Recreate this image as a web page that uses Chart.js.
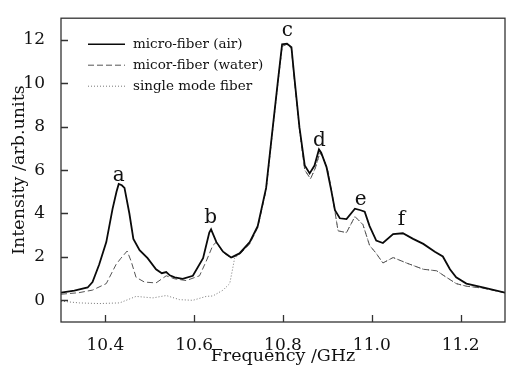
<!DOCTYPE html>
<html>
<head>
<meta charset="utf-8">
<script src="https://cdn.jsdelivr.net/npm/chart.js@4.4.1/dist/chart.umd.min.js"></script>
<style>
  html, body { margin: 0; padding: 0; background: #fff; }
  #chart { display: block; }
</style>
</head>
<body>
<canvas id="chart" width="513" height="370"></canvas>
<script>
// frequency (GHz), intensity (arb. units)
const airPoints = [
    [10.30, 0.35], [10.33, 0.45], [10.36, 0.59], [10.371, 0.84], [10.386, 1.65], [10.402, 2.68],
    [10.416, 4.2], [10.425, 5.0], [10.430, 5.36], [10.437, 5.3], [10.443, 5.18], [10.454, 4.0],
    [10.463, 2.83], [10.477, 2.31], [10.495, 1.94], [10.514, 1.43], [10.527, 1.25], [10.537, 1.3],
    [10.545, 1.15], [10.556, 1.06], [10.574, 0.99], [10.597, 1.13], [10.62, 1.94], [10.634, 3.12],
    [10.638, 3.27], [10.65, 2.68], [10.665, 2.24], [10.683, 1.97], [10.702, 2.16], [10.725, 2.68],
    [10.743, 3.42], [10.762, 5.18], [10.777, 7.98], [10.789, 10.19], [10.798, 11.8], [10.809, 11.83],
    [10.819, 11.66], [10.826, 10.19], [10.837, 7.98], [10.849, 6.21], [10.86, 5.85], [10.871, 6.21],
    [10.881, 6.95], [10.886, 6.8], [10.898, 6.14], [10.909, 5.03], [10.917, 4.15], [10.928, 3.78],
    [10.943, 3.74], [10.962, 4.22], [10.975, 4.15], [10.984, 4.08], [10.995, 3.42], [11.01, 2.75],
    [11.025, 2.64], [11.048, 3.05], [11.07, 3.09], [11.093, 2.83], [11.116, 2.6], [11.142, 2.24],
    [11.16, 2.02], [11.176, 1.43], [11.19, 1.06], [11.213, 0.77], [11.25, 0.59], [11.3, 0.35]
];
const waterPoints = [
    [10.30, 0.28], [10.34, 0.35], [10.371, 0.47], [10.402, 0.77], [10.424, 1.65], [10.435, 1.94],
    [10.449, 2.27], [10.458, 1.8], [10.469, 1.06], [10.488, 0.84], [10.514, 0.8], [10.537, 1.13],
    [10.556, 0.99], [10.582, 0.91], [10.612, 1.13], [10.627, 1.8], [10.642, 2.53], [10.65, 2.68],
    [10.665, 2.2], [10.683, 1.95], [10.702, 2.1], [10.725, 2.6], [10.743, 3.35], [10.762, 5.1],
    [10.777, 7.9], [10.789, 10.1], [10.798, 11.7], [10.809, 11.8], [10.819, 11.6], [10.826, 10.1],
    [10.837, 7.9], [10.849, 6.0], [10.862, 5.6], [10.873, 6.1], [10.883, 6.8], [10.89, 6.6],
    [10.902, 5.9], [10.913, 4.6], [10.924, 3.2], [10.943, 3.12], [10.962, 3.86], [10.98, 3.49],
    [10.995, 2.53], [11.01, 2.16], [11.025, 1.72], [11.048, 1.97], [11.078, 1.72], [11.116, 1.43],
    [11.146, 1.36], [11.168, 1.06], [11.19, 0.77], [11.213, 0.65], [11.25, 0.56], [11.3, 0.35]
];
const singlePoints = [
    [10.30, -0.04], [10.341, -0.12], [10.386, -0.15], [10.432, -0.12], [10.469, 0.18], [10.507, 0.11],
    [10.537, 0.22], [10.567, 0.03], [10.597, 0.0], [10.627, 0.18], [10.642, 0.2], [10.665, 0.47],
    [10.68, 0.77], [10.687, 1.5], [10.691, 1.94], [10.702, 2.12], [10.725, 2.62], [10.743, 3.35],
    [10.762, 5.1], [10.777, 7.9], [10.789, 10.1], [10.798, 11.7], [10.809, 11.8], [10.819, 11.6],
    [10.826, 10.1], [10.837, 7.9], [10.849, 6.0], [10.862, 5.6], [10.873, 6.1], [10.883, 6.8],
    [10.89, 6.6], [10.902, 5.9], [10.913, 4.6], [10.924, 3.2], [10.943, 3.12], [10.962, 3.86],
    [10.98, 3.49], [10.995, 2.53], [11.01, 2.16], [11.025, 1.72], [11.048, 1.97], [11.078, 1.72],
    [11.116, 1.43], [11.146, 1.36], [11.168, 1.06], [11.19, 0.77], [11.213, 0.65], [11.25, 0.56], [11.3, 0.35]
];
const seriesNames = ['micro-fiber (air)', 'micor-fiber (water)', 'single mode fiber'];
const xTicks = [10.4, 10.6, 10.8, 11.0, 11.2];
const yTicks = [0, 2, 4, 6, 8, 10, 12];
// peak letters: [label, freq, intensity]
const peakLabels = [['a', 10.43, 5.75], ['b', 10.637, 3.8], ['c', 10.81, 12.4], ['d', 10.882, 7.35], ['e', 10.975, 4.65], ['f', 11.067, 3.7]];

const serif = '"DejaVu Serif", serif';
const toXY = pts => pts.map(p => ({x: p[0], y: p[1]}));

const styles = [
    {color: '#0a0a0a', width: 1.8, dash: []},
    {color: '#555', width: 1, dash: [6, 3]},
    {color: '#777', width: 1, dash: [1, 2]}
];

const decorPlugin = {
    id: 'decor',
    afterDraw(chart) {
        const ctx = chart.ctx;
        const a = chart.chartArea;
        const xs = chart.scales.x, ys = chart.scales.y;
        ctx.save();
        // frame
        ctx.strokeStyle = '#333';
        ctx.lineWidth = 1.3;
        ctx.strokeRect(a.left, a.top, a.right - a.left, a.bottom - a.top);
        // inward ticks
        ctx.beginPath();
        for (let v of xTicks) {
            const px = Math.round(xs.getPixelForValue(v)) + 0.5;
            ctx.moveTo(px, a.bottom);
            ctx.lineTo(px, a.bottom - 7);
        }
        for (let v of yTicks) {
            const py = Math.round(ys.getPixelForValue(v)) + 0.5;
            ctx.moveTo(a.left, py);
            ctx.lineTo(a.left + 7, py);
        }
        ctx.stroke();
        // legend
        ctx.font = '13.5px ' + serif;
        ctx.fillStyle = '#111';
        ctx.textBaseline = 'middle';
        seriesNames.forEach((name, i) => {
            const y = a.top + 26 + i * 21;
            const s = styles[i];
            ctx.beginPath();
            ctx.strokeStyle = s.color;
            ctx.lineWidth = i === 0 ? 1.5 : 1;
            ctx.setLineDash(s.dash);
            ctx.moveTo(a.left + 27, y);
            ctx.lineTo(a.left + 64, y);
            ctx.stroke();
            ctx.setLineDash([]);
            ctx.fillText(name, a.left + 72, y);
        });
        // peak letters
        ctx.font = '20px ' + serif;
        ctx.fillStyle = '#111';
        ctx.textAlign = 'center';
        for (let p of peakLabels) {
            ctx.fillText(p[0], xs.getPixelForValue(p[1]), ys.getPixelForValue(p[2]));
        }
        ctx.restore();
    }
};

new Chart(document.getElementById('chart'), {
    type: 'line',
    data: {
        datasets: [airPoints, waterPoints, singlePoints].map((pts, i) => ({
            label: seriesNames[i],
            data: toXY(pts),
            borderColor: styles[i].color,
            borderWidth: styles[i].width,
            borderDash: styles[i].dash,
            pointRadius: 0,
            tension: 0,
            fill: false
        }))
    },
    options: {
        responsive: false,
        animation: false,
        devicePixelRatio: 1,
        layout: {padding: {left: 0, right: 8, top: 7, bottom: 0}},
        plugins: {legend: {display: false}, tooltip: {enabled: false}},
        scales: {
            x: {
                type: 'linear',
                min: 10.3,
                max: 11.3,
                afterBuildTicks: s => { s.ticks = xTicks.map(v => ({value: v})); },
                afterFit: s => { s.height = 48; },
                grid: {display: false},
                border: {display: false},
                ticks: {
                    font: {family: serif, size: 17},
                    color: '#111',
                    padding: 5,
                    maxRotation: 0,
                    callback: v => v.toFixed(1)
                },
                title: {display: true, text: 'Frequency /GHz', font: {family: serif, size: 17.5}, color: '#111', padding: {top: 0, bottom: 3}}
            },
            y: {
                min: -1,
                max: 13,
                afterBuildTicks: s => { s.ticks = yTicks.map(v => ({value: v})); },
                afterFit: s => { s.width = 61; },
                grid: {display: false},
                border: {display: false},
                ticks: {
                    font: {family: serif, size: 17},
                    color: '#111',
                    padding: 8,
                    callback: v => String(v)
                },
                title: {display: true, text: 'Intensity /arb.units', font: {family: serif, size: 17.5}, color: '#111', padding: {top: 9, bottom: 0}}
            }
        }
    },
    plugins: [decorPlugin]
});
</script>
</body>
</html>
